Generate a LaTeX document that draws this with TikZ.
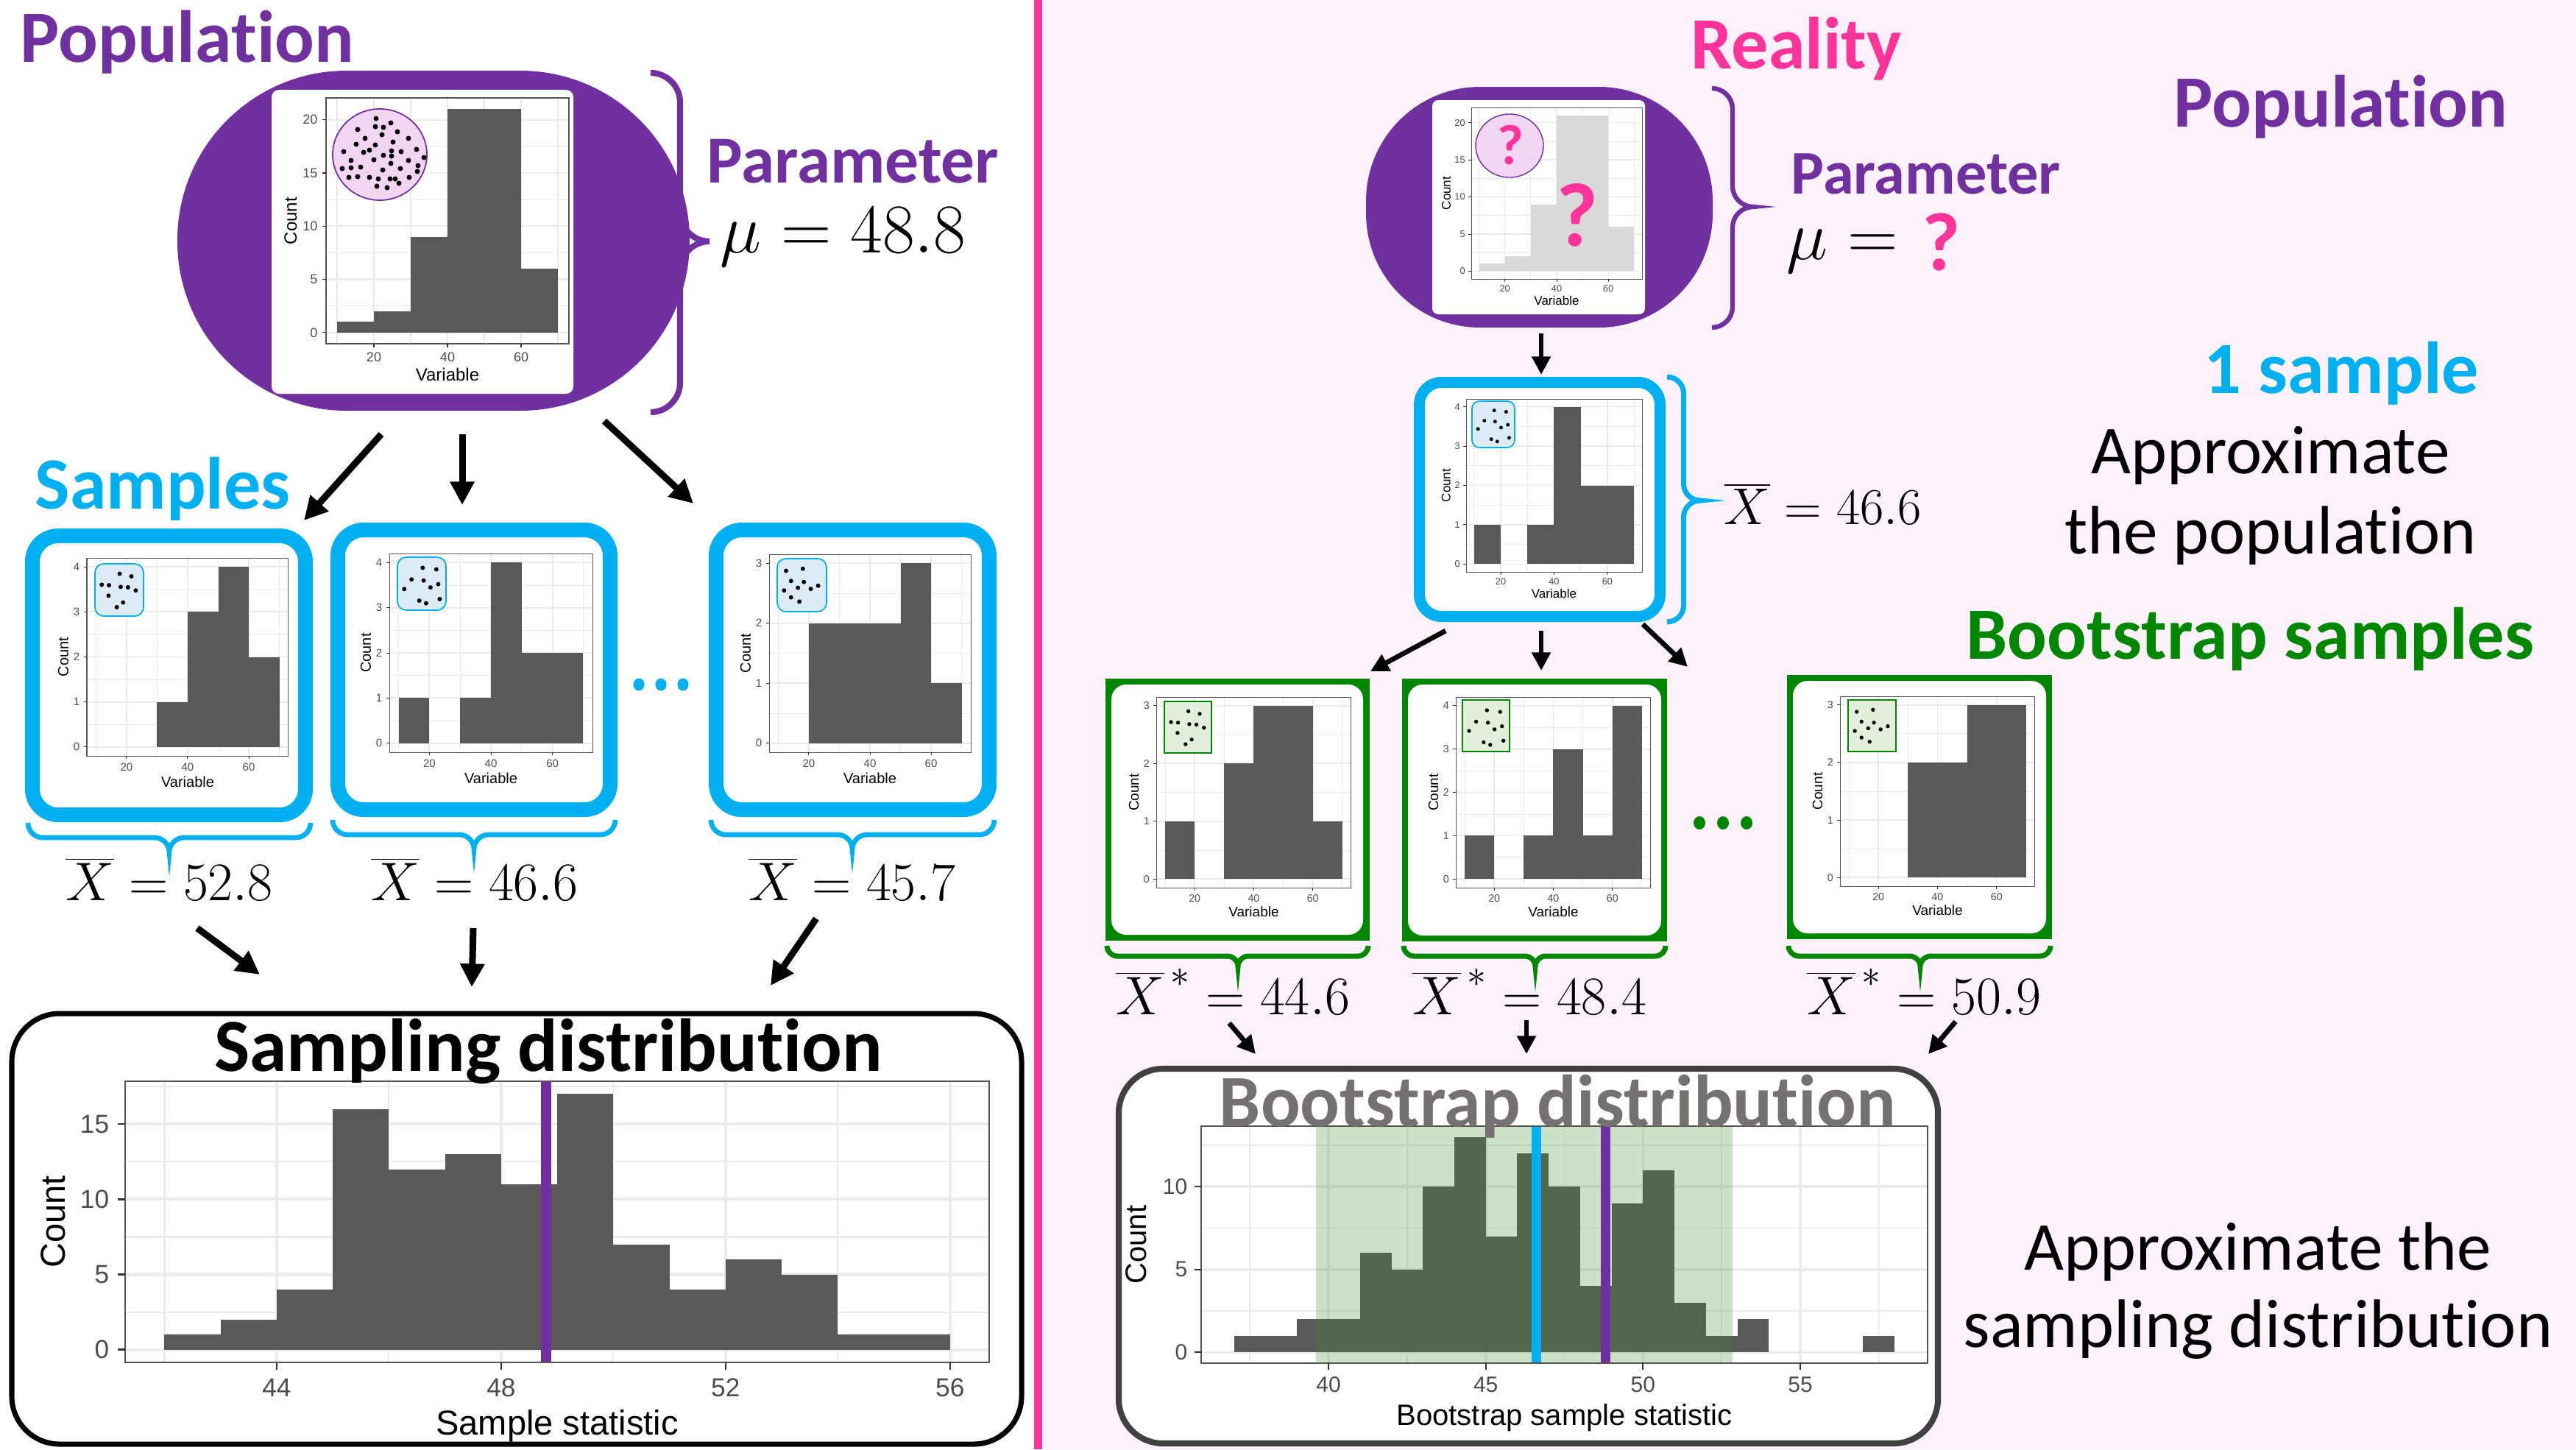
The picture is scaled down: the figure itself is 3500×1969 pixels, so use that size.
\RequirePackage{fix-cm}
\documentclass[tikz,border=0pt]{standalone}
\usepackage[no-math]{fontspec}
\setmainfont[Ligatures={NoCommon,NoContextual}]{Carlito}
\newfontfamily\plotfont{Liberation Sans}
\usetikzlibrary{arrows.meta,calc}

\definecolor{purp}{HTML}{7030A0}
\definecolor{skyb}{HTML}{00B0F0}
\definecolor{pinkc}{HTML}{FF3399}
\definecolor{grn}{RGB}{0,135,0}
\definecolor{ttlgray}{HTML}{767171}
\definecolor{boxgray}{HTML}{404040}
\definecolor{rbg}{RGB}{253,242,251}
\definecolor{barc}{HTML}{595959}
\definecolor{gridc}{HTML}{EBEBEB}
\definecolor{tickc}{HTML}{4D4D4D}
\definecolor{tickm}{HTML}{333333}
\definecolor{framec}{HTML}{555555}
\definecolor{popfill}{HTML}{F2D5F2}
\definecolor{sampfill}{HTML}{DDEBF7}
\definecolor{bootfill}{HTML}{E2EFDA}
\definecolor{lightbar}{HTML}{D9D9D9}
\definecolor{shadeg}{RGB}{60,140,45}

\newcommand\setplot[9]{%
  \pgfmathsetmacro\hxmn{#5}\pgfmathsetmacro\hxmx{#6}%
  \pgfmathsetmacro\hymn{#7}\pgfmathsetmacro\hymx{#8}%
  \pgfmathsetmacro\hxmid{(#5+#6)/2}\pgfmathsetmacro\hymid{(#7+#8)/2}%
  \pgfmathsetmacro\hsxp{#3/(#6-(#5))}%
  \pgfmathsetmacro\hsyp{#4/(#8-(#7))}%
  \pgfmathsetmacro\hXo{#1-(#5)*\hsxp}%
  \pgfmathsetmacro\hYo{#2+#4+(#7)*\hsyp}%
  \pgfmathsetmacro\hsxc{\hsxp*0.01}%
  \pgfmathsetmacro\hsyc{\hsyp*0.01}%
  \pgfmathsetmacro\hem{#9*0.2845}%
  \pgfmathsetmacro\htfs{#9*0.2845}%
  \pgfmathsetmacro\hkfs{#9*0.75*0.2845}%
  \pgfmathsetmacro\hgla{#9*0.09*0.2845}%
  \pgfmathsetmacro\hglb{#9*0.045*0.2845}%
  \pgfmathsetmacro\hflw{#9*0.05*0.2845}%
  \pgfmathsetmacro\htkl{#9*0.22*0.2845}%
  \pgfmathsetmacro\hlg{#9*0.45*0.2845}%
  \pgfmathsetmacro\hxt{#9*2.1*0.2845}%
}
\tikzset{
  dcs/.style={shift={(\hXo,\hYo)},x=\hsxc cm,y=\hsyc cm},
  tkstyle/.style={font=\plotfont\fontsize{\hkfs}{\hkfs}\selectfont, text=tickc, inner sep=0pt},
  ttstyle/.style={font=\plotfont\fontsize{\htfs}{\htfs}\selectfont, text=black, inner sep=0pt},
  arr/.style={line width=2.56pt, -{Triangle[length=9pt,width=9pt]}},
  arrs/.style={line width=1.9pt, -{Triangle[length=7pt,width=7pt]}},
  hdtxt/.style={font=\fontsize{28.5}{30}\selectfont\bfseries, inner sep=0pt, anchor=base west},
  bodytxt/.style={font=\fontsize{26.5}{30}\selectfont, inner sep=0pt, anchor=base},
  mlab/.style={font=\fontsize{21}{24}\selectfont, inner sep=0pt, anchor=base},
}
\newcommand\hgrid[4]{%
  \foreach \vv in {#2} {\draw[gridc, line width=\hglb pt] (\vv,\hymn) -- (\vv,\hymx);}
  \foreach \vv in {#4} {\draw[gridc, line width=\hglb pt] (\hxmn,\vv) -- (\hxmx,\vv);}
  \foreach \vv in {#1} {\draw[gridc, line width=\hgla pt] (\vv,\hymn) -- (\vv,\hymx);}
  \foreach \vv in {#3} {\draw[gridc, line width=\hgla pt] (\hxmn,\vv) -- (\hxmx,\vv);}
}
\newcommand\hbars[2]{\foreach \ba/\bb/\bh in {#2} {\fill[#1] (\ba,0) rectangle (\bb,\bh);}}
\newcommand\haxes[5]{%
  \pgfmathsetmacro\hcnt{#5*\hem}%
  \draw[framec, line width=\hflw pt] (\hxmn,\hymn) rectangle (\hxmx,\hymx);
  \foreach \vv in {#1} {%
    \draw[tickm, line width=\hflw pt] (\vv,\hymn) -- ++(0pt,-\htkl pt);
    \node[tkstyle, anchor=north, yshift=-\hlg pt] (xt\vv) at (\vv,\hymn) {\vv};}
  \foreach \vv in {#2} {%
    \draw[tickm, line width=\hflw pt] (\hxmn,\vv) -- ++(-\htkl pt,0pt);
    \node[tkstyle, anchor=east, xshift=-\hlg pt] (yt\vv) at (\hxmn,\vv) {\vv};}
  \node[ttstyle, anchor=base, yshift=-\hxt pt] (xtitle) at (\hxmid,\hymn) {#3};
  \node[ttstyle, rotate=90, anchor=center] (ytitle) at ($(\hxmn,\hymid)+(-\hcnt pt,0pt)$) {#4};
}
% vertical brace, tip right: style, xhook, ytop, ybot, width, ytip
\newcommand\vbrc[6]{%
  \pgfmathsetmacro\bxa{#2}\pgfmathsetmacro\bw{#5/2}%
  \pgfmathsetmacro\bxm{#2+\bw}\pgfmathsetmacro\bxt{#2+#5}%
  \pgfmathsetmacro\bc{0.55*\bw}%
  \draw[#1] (\bxa,#3) .. controls ({\bxa+\bc},#3) and (\bxm,{#3+\bw-\bc}) .. (\bxm,{#3+\bw})
     -- (\bxm,{#6-\bw}) .. controls (\bxm,{#6-\bw+\bc}) and ({\bxt-\bc},#6) .. (\bxt,#6)
     .. controls ({\bxt-\bc},#6) and (\bxm,{#6+\bw-\bc}) .. (\bxm,{#6+\bw})
     -- (\bxm,{#4-\bw}) .. controls (\bxm,{#4-\bw+\bc}) and ({\bxa+\bc},#4) .. (\bxa,#4);
}
% horizontal brace, tip down: style, yhook, xleft, xright, height, xtip
\newcommand\hbrc[6]{%
  \pgfmathsetmacro\bya{#2}\pgfmathsetmacro\bw{#5/2}%
  \pgfmathsetmacro\bym{#2+\bw}\pgfmathsetmacro\byt{#2+#5}%
  \pgfmathsetmacro\bc{0.55*\bw}%
  \draw[#1] (#3,\bya) .. controls (#3,{\bya+\bc}) and ({#3+\bw-\bc},\bym) .. ({#3+\bw},\bym)
    -- ({#6-\bw},\bym) .. controls ({#6-\bw+\bc},\bym) and (#6,{\byt-\bc}) .. (#6,\byt)
    .. controls (#6,{\byt-\bc}) and ({#6+\bw-\bc},\bym) .. ({#6+\bw},\bym)
    -- ({#4-\bw},\bym) .. controls ({#4-\bw+\bc},\bym) and (#4,{\bya+\bc}) .. (#4,\bya);
}
\def\patA{0.14/0.40,0.29/0.41,0.51/0.19,0.75/0.24,0.53/0.44,0.68/0.45,0.84/0.51,0.28/0.61,0.58/0.74,0.45/0.83}
\def\patB{0.52/0.20,0.80/0.23,0.29/0.42,0.54/0.44,0.14/0.60,0.68/0.57,0.84/0.51,0.45/0.82,0.59/0.87,0.87/0.79}
\def\patC{0.18/0.23,0.52/0.19,0.28/0.42,0.54/0.44,0.42/0.55,0.14/0.60,0.68/0.57,0.83/0.51,0.28/0.73,0.45/0.81}
\newcommand\pdots[6]{\foreach \fx/\fy in #1 {\fill ({#2+\fx*#4},{#3+\fy*#5}) circle (#6 cm);}}

\begin{document}
\begin{tikzpicture}[x=0.01cm,y=-0.01cm]
\useasboundingbox (0,0) rectangle (3500,1969);
\fill[white] (0,0) rectangle (1405,1969);
\fill[rbg] (1416,0) rectangle (3500,1969);
\fill[pinkc] (1405,0) rectangle (1416,1969);

%% ================= LEFT HALF =================
\node[hdtxt, text=purp] (popL) at (27,84) {Population};
\fill[purp, rounded corners=2.3cm] (241,96) rectangle (937,558);
\fill[white, rounded corners=0.1cm] (369,122) rectangle (779,535);
\setplot{443}{133}{330}{334}{7}{73}{-1.05}{22.05}{24}
\begin{scope}[dcs]
\hgrid{20,40,60}{10,30,50,70}{0,5,10,15,20}{2.5,7.5,12.5,17.5}
\hbars{barc}{10/20/1,20/30/2,30/40/9,40/60/21,60/70/6}
\haxes{20,40,60}{0,5,10,15,20}{Variable}{Count}{2.0}
\end{scope}
\draw[purp, line width=0.5pt, fill=popfill] (516,210) ellipse (0.64cm and 0.62cm);
\foreach \px/\py in {511/161,486/176,510/172,521/173,531/167,519/183,540/179,496/188,555/188,484/196,510/197,534/193,467/206,494/207,502/204,532/205,545/206,566/203,521/211,532/212,477/218,508/217,555/218,576/214,465/229,477/228,490/227,531/222,520/231,544/229,568/225,567/233,474/241,486/240,502/241,514/243,530/243,537/243,556/241,512/253,526/255,542/249}
  {\fill (\px,\py) circle (0.035cm);}
\vbrc{purp, line width=2.3pt}{884}{99}{560}{80}{328}
\node[hdtxt, text=purp, font=\fontsize{26}{28}\selectfont\bfseries] (parL) at (960,248) {Parameter};
\node[anchor=base west, inner sep=0pt, font=\fontsize{27}{30}\selectfont] (muL) at (978,343) {$\mu = 48.8$};

\node[hdtxt, text=skyb] (sampT) at (47,691) {Samples};
\coordinate (pa1) at (518,590); \coordinate (pb1) at (413,707);
\coordinate (pa2) at (628,590); \coordinate (pb2) at (628,686);
\coordinate (pa3) at (821,572); \coordinate (pb3) at (942,684);
\draw[arr] (pa1) -- (pb1);
\draw[arr] (pa2) -- (pb2);
\draw[arr] (pa3) -- (pb3);

% sample boxes
\draw[skyb, line width=5.69pt, rounded corners=0.35cm, fill=white] (44,728) rectangle (415,1107);
\draw[skyb, line width=5.69pt, rounded corners=0.35cm, fill=white] (459,720) rectangle (829,1100);
\draw[skyb, line width=5.69pt, rounded corners=0.35cm, fill=white] (973,720) rectangle (1344,1100);

\setplot{118}{758}{274}{269}{7}{73}{-0.2}{4.2}{20}
\begin{scope}[dcs]
\hgrid{20,40,60}{10,30,50,70}{0,1,2,3,4}{0.5,1.5,2.5,3.5}
\hbars{barc}{30/40/1,40/50/3,50/60/4,60/70/2}
\haxes{20,40,60}{0,1,2,3,4}{Variable}{Count}{1.6}
\end{scope}
\draw[skyb, line width=0.5pt, rounded corners=0.12cm, fill=sampfill] (129,766) rectangle +(66,71);
\pdots{\patA}{129}{766}{66}{71}{0.03}

\setplot{529}{752}{276}{270}{7}{73}{-0.2}{4.2}{20}
\begin{scope}[dcs]
\hgrid{20,40,60}{10,30,50,70}{0,1,2,3,4}{0.5,1.5,2.5,3.5}
\hbars{barc}{10/20/1,30/40/1,40/50/4,50/70/2}
\haxes{20,40,60}{0,1,2,3,4}{Variable}{Count}{1.6}
\end{scope}
\draw[skyb, line width=0.5pt, rounded corners=0.12cm, fill=sampfill] (540,757) rectangle +(66,72);
\pdots{\patB}{540}{757}{66}{72}{0.03}

\setplot{1045}{753}{274}{269}{7}{73}{-0.15}{3.15}{20}
\begin{scope}[dcs]
\hgrid{20,40,60}{10,30,50,70}{0,1,2,3}{0.5,1.5,2.5}
\hbars{barc}{20/50/2,50/60/3,60/70/1}
\haxes{20,40,60}{0,1,2,3}{Variable}{Count}{1.6}
\end{scope}
\draw[skyb, line width=0.5pt, rounded corners=0.12cm, fill=sampfill] (1056,759) rectangle +(67,72);
\pdots{\patC}{1056}{759}{67}{72}{0.03}

\foreach \dx in {868,898,928} {\fill[skyb] (\dx,930) ellipse (0.075cm and 0.085cm);}

\hbrc{skyb, line width=1.9pt}{1118}{38}{422}{40}{230}
\hbrc{skyb, line width=1.9pt}{1114}{452}{836}{40}{644}
\hbrc{skyb, line width=1.9pt}{1114}{966}{1351}{40}{1158}
\node[mlab] (xb1) at (230,1223) {$\overline{X} = 52.8$};
\node[mlab] (xb2) at (645,1223) {$\overline{X} = 46.6$};
\node[mlab] (xb3) at (1158,1223) {$\overline{X} = 45.7$};

\coordinate (qa1) at (268,1261); \coordinate (qb1) at (353,1324);
\coordinate (qa2) at (643,1261); \coordinate (qb2) at (641,1341);
\coordinate (qa3) at (1109,1248); \coordinate (qb3) at (1047,1339);
\draw[arr] (qa1) -- (qb1);
\draw[arr] (qa2) -- (qb2);
\draw[arr] (qa3) -- (qb3);

% sampling distribution
\draw[black, line width=2pt, rounded corners=0.65cm, fill=white] (16,1377) rectangle (1388,1962);
\setplot{170}{1469}{1174}{382}{41.3}{56.7}{-0.85}{17.85}{47}
\begin{scope}[dcs]
\hgrid{44,48,52,56}{42,46,50,54}{0,5,10,15}{2.5,7.5,12.5,17.5}
\hbars{barc}{42/43/1,43/44/2,44/45/4,45/46/16,46/47/12,47/48/13,48/49/11,49/50/17,50/51/7,51/52/4,52/53/6,53/54/5,54/55/1,55/56/1}
\draw[purp, line width=4pt] (48.8,\hymn) -- (48.8,\hymx);
\haxes{44,48,52,56}{0,5,10,15}{Sample statistic}{Count}{2.08}
\end{scope}
\node[inner sep=0pt, anchor=base, font=\fontsize{29}{31}\selectfont\bfseries] (sdT) at (745,1455) {Sampling distribution};

%% ================= RIGHT HALF =================
\node[hdtxt, text=pinkc] (realT) at (2297,93) {Reality};
\fill[purp, rounded corners=1.55cm] (1856,118) rectangle (2327,445);
\fill[white, rounded corners=0.08cm] (1946,136) rectangle (2235,427);
\setplot{1999}{146}{232}{233}{7}{73}{-1.05}{22.05}{17}
\begin{scope}[dcs]
\hgrid{20,40,60}{10,30,50,70}{0,5,10,15,20}{2.5,7.5,12.5,17.5}
\hbars{lightbar}{10/20/1,20/30/2,30/40/9,40/60/21,60/70/6}
\haxes{20,40,60}{0,5,10,15,20}{Variable}{Count}{2.0}
\end{scope}
\draw[purp, line width=0.4pt, fill=popfill] (2051,198) ellipse (0.46cm and 0.43cm);
\node[inner sep=0pt, text=pinkc, font=\fontsize{22}{24}\selectfont\bfseries] (q1) at (2052,197) {?};
\node[inner sep=0pt, text=pinkc, font=\fontsize{35}{38}\selectfont\bfseries] (q2) at (2143,292) {?};
\vbrc{purp, line width=1.8pt}{2326}{120}{445}{56}{281}
\node[hdtxt, text=purp, font=\fontsize{24}{26}\selectfont\bfseries] (parR) at (2433,263) {Parameter};
\node[anchor=base west, inner sep=0pt, font=\fontsize{27}{30}\selectfont] (muR) at (2427,352) {$\mu =$};
\node[anchor=base west, inner sep=0pt, text=pinkc, font=\fontsize{32}{34}\selectfont\bfseries] (qm) at (2611,367) {?};
\node[hdtxt, text=purp] (popR) at (2953,172) {Population};

\coordinate (ra0) at (2094,453); \coordinate (rb0) at (2094,509);
\draw[arrs] (ra0) -- (rb0);

% one sample
\draw[skyb, line width=4.27pt, rounded corners=0.3cm, fill=white] (1928.5,519.5) rectangle (2255.5,837.5);
\setplot{1992}{542}{239}{235}{7}{73}{-0.2}{4.2}{17}
\begin{scope}[dcs]
\hgrid{20,40,60}{10,30,50,70}{0,1,2,3,4}{0.5,1.5,2.5,3.5}
\hbars{barc}{10/20/1,30/40/1,40/50/4,50/70/2}
\haxes{20,40,60}{0,1,2,3,4}{Variable}{Count}{1.6}
\end{scope}
\draw[skyb, line width=0.5pt, rounded corners=0.1cm, fill=sampfill] (2000,545) rectangle +(58,63);
\pdots{\patB}{2000}{545}{58}{63}{0.025}
\vbrc{skyb, line width=2pt}{2265}{512}{845}{45}{680}
\node[anchor=base west, inner sep=0pt, font=\fontsize{20}{22}\selectfont] (xbR) at (2342,712) {$\overline{X} = 46.6$};

\node[hdtxt, text=skyb] (oneT) at (2994,534) {1 sample};
\node[bodytxt] (ap1) at (3085,643) {Approximate};
\node[bodytxt] (ap2) at (3085,752) {the population};
\node[hdtxt, text=grn] (bsT) at (2671,895) {Bootstrap samples};

\coordinate (sa1) at (1964,857); \coordinate (sb1) at (1862,912);
\coordinate (sa2) at (2094,857); \coordinate (sb2) at (2094,911);
\coordinate (sa3) at (2232,848); \coordinate (sb3) at (2293,906);
\draw[arrs] (sa1) -- (sb1);
\draw[arrs] (sa2) -- (sb2);
\draw[arrs] (sa3) -- (sb3);

% bootstrap samples
\fill[grn] (1502,922) rectangle (1861,1278);
\fill[white, rounded corners=0.2cm] (1510,930) rectangle (1852,1270);
\setplot{1571}{947}{265}{259}{7}{73}{-0.15}{3.15}{19}
\begin{scope}[dcs]
\hgrid{20,40,60}{10,30,50,70}{0,1,2,3}{0.5,1.5,2.5}
\hbars{barc}{10/20/1,30/40/2,40/60/3,60/70/1}
\haxes{20,40,60}{0,1,2,3}{Variable}{Count}{1.6}
\end{scope}
\draw[grn, line width=0.5pt, fill=bootfill] (1582,953) rectangle +(64,70);
\pdots{\patA}{1582}{953}{64}{70}{0.027}

\fill[grn] (1905,922) rectangle (2265,1279);
\fill[white, rounded corners=0.2cm] (1913,930) rectangle (2257,1271);
\setplot{1978}{947}{265}{259}{7}{73}{-0.2}{4.2}{19}
\begin{scope}[dcs]
\hgrid{20,40,60}{10,30,50,70}{0,1,2,3,4}{0.5,1.5,2.5,3.5}
\hbars{barc}{10/20/1,30/40/1,40/50/3,50/60/1,60/70/4}
\haxes{20,40,60}{0,1,2,3,4}{Variable}{Count}{1.6}
\end{scope}
\draw[grn, line width=0.5pt, fill=bootfill] (1987,951) rectangle +(64,70);
\pdots{\patB}{1987}{951}{64}{70}{0.027}

\fill[grn] (2428,917) rectangle (2788,1276);
\fill[white, rounded corners=0.2cm] (2436,925) rectangle (2780,1268);
\setplot{2500}{946}{265}{258}{7}{73}{-0.15}{3.15}{19}
\begin{scope}[dcs]
\hgrid{20,40,60}{10,30,50,70}{0,1,2,3}{0.5,1.5,2.5}
\hbars{barc}{30/50/2,50/70/3}
\haxes{20,40,60}{0,1,2,3}{Variable}{Count}{1.6}
\end{scope}
\draw[grn, line width=0.5pt, fill=bootfill] (2511,951) rectangle +(65,70);
\pdots{\patC}{2511}{951}{65}{70}{0.027}

\foreach \dx in {2309,2341,2373} {\fill[grn] (\dx,1118) ellipse (0.08cm and 0.09cm);}

\hbrc{grn, line width=2pt}{1285}{1504}{1859}{28}{1682}
\hbrc{grn, line width=2pt}{1285}{1907}{2263}{28}{2086}
\hbrc{grn, line width=2pt}{1285}{2430}{2786}{28}{2609}
\node[mlab] (xs1) at (1675,1378) {$\overline{X}^{\,*} = 44.6$};
\node[mlab] (xs2) at (2078,1378) {$\overline{X}^{\,*} = 48.4$};
\node[mlab] (xs3) at (2614,1378) {$\overline{X}^{\,*} = 50.9$};

\coordinate (ta1) at (1670,1390); \coordinate (tb1) at (1706,1432);
\coordinate (ta2) at (2074,1386); \coordinate (tb2) at (2074,1432);
\coordinate (ta3) at (2657,1388); \coordinate (tb3) at (2620,1432);
\draw[arrs] (ta1) -- (tb1);
\draw[arrs] (ta2) -- (tb2);
\draw[arrs] (ta3) -- (tb3);

% bootstrap distribution
\draw[boxgray, line width=2.3pt, rounded corners=0.6cm, fill=white] (1520,1452) rectangle (2633,1961);
\setplot{1632}{1530}{987}{322}{35.95}{59.05}{-0.65}{13.65}{40}
\begin{scope}[dcs]
\hgrid{40,45,50,55}{37.5,42.5,47.5,52.5,57.5}{0,5,10}{2.5,7.5,12.5}
\hbars{barc}{37/38/1,38/39/1,39/40/2,40/41/2,41/42/6,42/43/5,43/44/10,44/45/13,45/46/7,46/47/12,47/48/10,48/49/4,49/50/9,50/51/11,51/52/3,52/53/1,53/54/2,57/58/1}
\fill[shadeg, opacity=0.26] (39.6,\hymn) rectangle (52.85,\hymx);
\draw[skyb, line width=3.7pt] (46.6,\hymn) -- (46.6,\hymx);
\draw[purp, line width=3.7pt] (48.8,\hymn) -- (48.8,\hymx);
\haxes{40,45,50,55}{0,5,10}{Bootstrap sample statistic}{Count}{2.2}
\end{scope}
\node[inner sep=0pt, anchor=base, text=ttlgray, font=\fontsize{28.5}{30}\selectfont\bfseries] (bdT) at (2116,1530) {Bootstrap distribution};

\node[bodytxt] (ap3) at (3068,1725) {Approximate the};
\node[bodytxt] (ap4) at (3068,1830) {sampling distribution};
\end{tikzpicture}
\end{document}
